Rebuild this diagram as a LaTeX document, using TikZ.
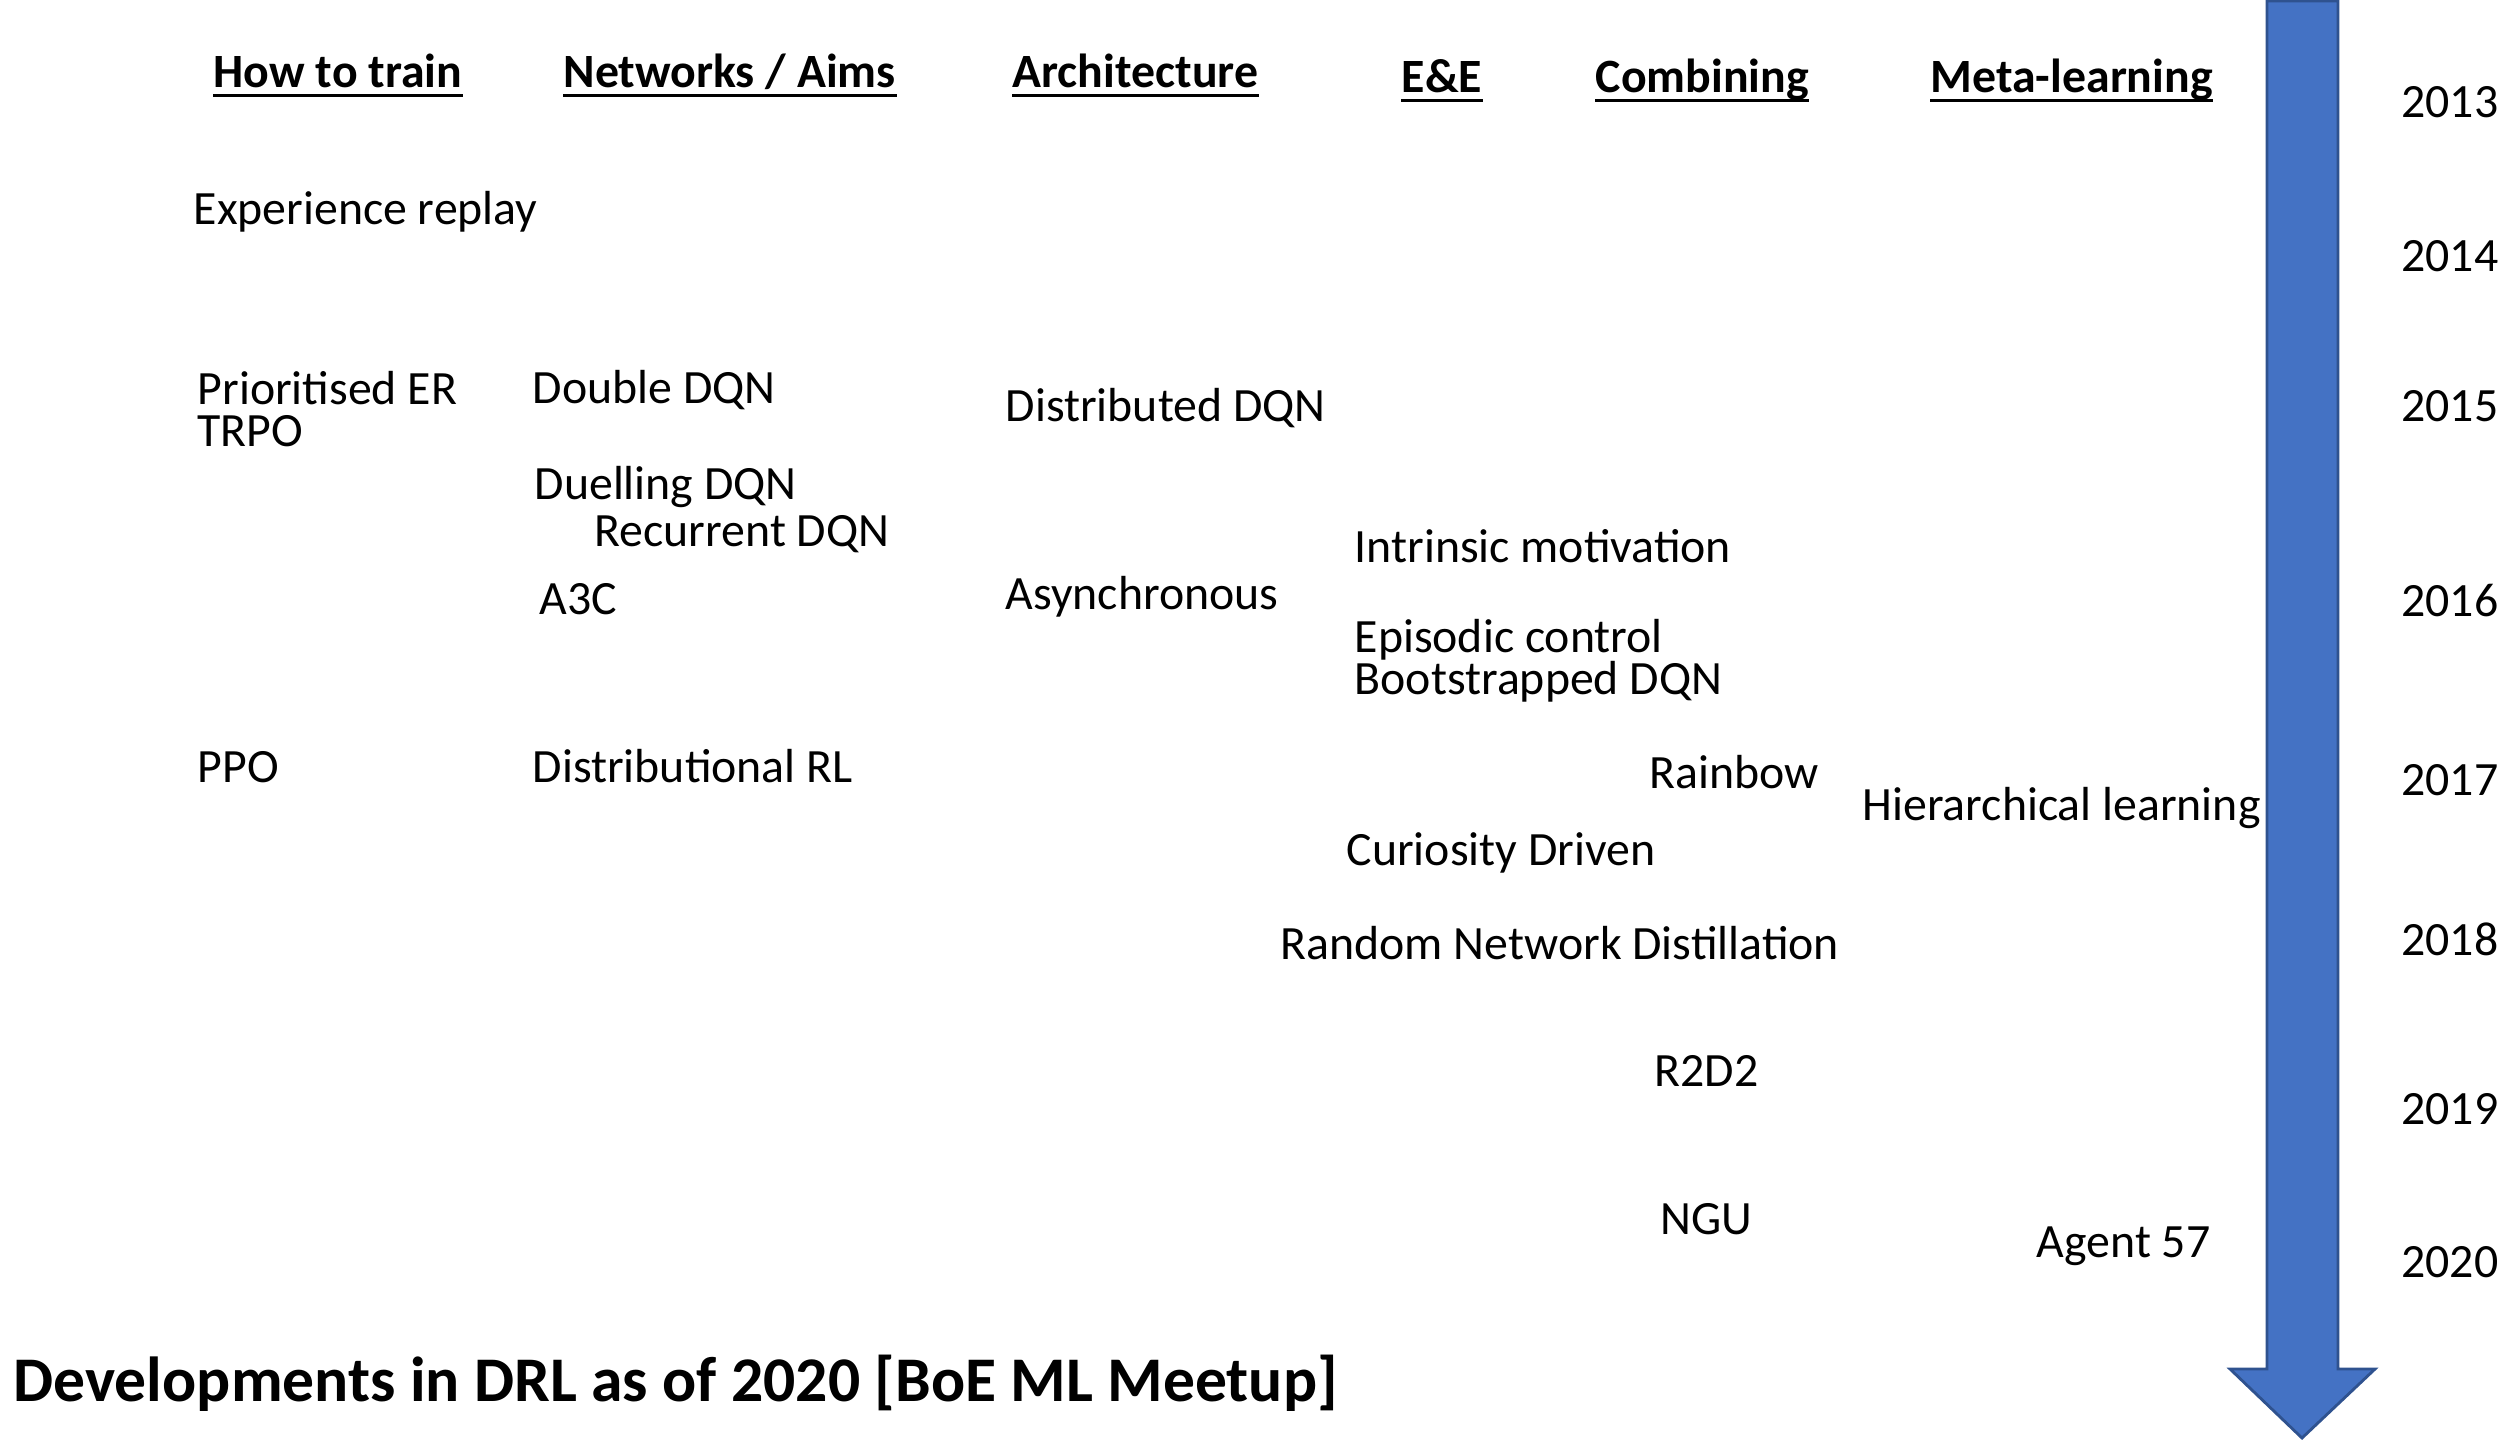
\documentclass[tikz,border=0pt]{standalone}
\usepackage{fontspec}
\setmainfont{Carlito}
\definecolor{arrowblue}{HTML}{4472C4}
\definecolor{arrowedge}{HTML}{2F528F}

\begin{document}
\begin{tikzpicture}[
  item/.style={anchor=base west, inner sep=0pt, font=\fontsize{13.6}{14}\selectfont},
  pair/.style={anchor=west, inner sep=0pt, align=left, font=\fontsize{13.6}{11.95}\selectfont},
  header/.style={anchor=base west, inner sep=0pt, font=\fontsize{13.6}{14}\selectfont\bfseries},
  year/.style={anchor=base east, inner sep=0pt, font=\fontsize{13.6}{14}\selectfont},
  title/.style={anchor=base west, inner sep=0pt, font=\fontsize{18.1}{20}\selectfont\bfseries}
]
  \useasboundingbox (0,0) rectangle (25.06,-14.40);

  % Time arrow
  \draw[fill=arrowblue, draw=arrowedge, line width=0.8pt, line join=miter]
    (22.67,-0.01) -- (23.38,-0.01) -- (23.38,-13.69) -- (23.75,-13.69)
    -- (23.02,-14.38) -- (22.30,-13.69) -- (22.67,-13.69) -- cycle;

  % Headers
  \node[header] (train) at (2.13,-0.87) {How to train};
  \node[header] (nets) at (5.63,-0.87) {Networks / Aims};
  \node[header] (arch) at (10.12,-0.87) {Architecture};
  \node[header] (ee) at (14.01,-0.92) {E\&E};
  \node[header] (comb) at (15.95,-0.92) {Combining\ };
  \node[header] (meta) at (19.30,-0.92) {Meta-learning};
  \foreach \h in {train,nets,arch,ee,comb,meta}
    \draw[line width=1.1pt] ([yshift=-2.4pt]\h.base west) -- ([yshift=-2.4pt]\h.base east);

  % Years
  \node[year] (y13) at (24.99,-1.17) {2013};
  \node[year] (y14) at (24.99,-2.71) {2014};
  \node[year] (y15) at (24.99,-4.21) {2015};
  \node[year] (y16) at (24.99,-6.16) {2016};
  \node[year] (y17) at (24.99,-7.95) {2017};
  \node[year] (y18) at (24.99,-9.55) {2018};
  \node[year] (y19) at (24.99,-11.24) {2019};
  \node[year] (y20) at (24.99,-12.77) {2020};

  % Developments
  \node[item] (er) at (1.93,-2.24) {Experience replay};
  \node[pair] (per) at (1.97,-4.09) {Prioritised ER\\TRPO};
  \node[item] (ddqn) at (5.32,-4.03) {Double DQN};
  \node[item] (distdqn) at (10.05,-4.21) {Distributed DQN};
  \node[item] (duel) at (5.34,-4.99) {Duelling DQN};
  \node[item] (rdqn) at (5.94,-5.46) {Recurrent DQN};
  \node[item] (intr) at (13.54,-5.62) {Intrinsic motivation};
  \node[item] (athree) at (5.39,-6.14) {A3C};
  \node[item] (async) at (10.05,-6.09) {Asynchronous};
  \node[pair] (epis) at (13.54,-6.61) {Episodic control\\Bootstrapped DQN};
  \node[item] (ppo) at (1.97,-7.82) {PPO};
  \node[item] (distrl) at (5.32,-7.82) {Distributional RL};
  \node[item] (rainbow) at (16.49,-7.88) {Rainbow};
  \node[item] (hier) at (18.62,-8.20) {Hierarchical learning};
  \node[item] (curio) at (13.46,-8.65) {Curiosity Driven};
  \node[item] (rnd) at (12.80,-9.59) {Random Network Distillation};
  \node[item] (rtwo) at (16.54,-10.86) {R2D2};
  \node[item] (ngu) at (16.60,-12.34) {NGU};
  \node[item] (agent) at (20.36,-12.57) {Agent 57};

  % Title
  \node[title] (caption) at (0.13,-14.01) {Developments in DRL as of 2020 [BoE ML Meetup]};
\end{tikzpicture}
\end{document}
